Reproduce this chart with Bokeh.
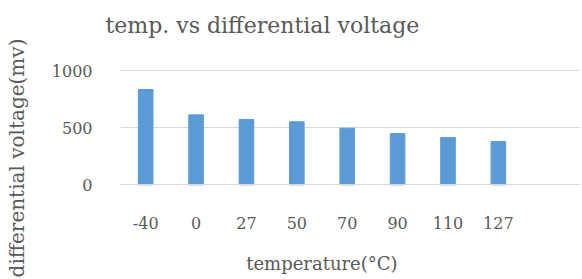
from bokeh.plotting import figure
from bokeh.models import Range1d, Title, FixedTicker
from bokeh.embed import file_html
from bokeh.resources import INLINE

temps = ["-40", "0", "27", "50", "70", "90", "110", "127"]
voltages = [834, 612, 571, 551, 495, 448, 414, 379]
y_ticks = [0, 500, 1000]

positions = list(range(len(temps)))

FONT = "DejaVu Serif"
TXT = "#595959"
NBSP = "\u00a0"

p = figure(width=580, height=277, output_backend="svg", toolbar_location=None,
           x_range=Range1d(-0.5, 8.63), y_range=Range1d(-811, 1280),
           min_border_left=120, min_border_right=0, min_border_top=38,
           min_border_bottom=0)

p.vbar(x=positions, top=voltages, width=0.29, color="#5B9BD5")

p.outline_line_color = None
p.xgrid.grid_line_color = None
p.ygrid.grid_line_color = "#d9d9d9"
p.ygrid.ticker = FixedTicker(ticks=y_ticks)

p.yaxis.ticker = FixedTicker(ticks=y_ticks)
p.yaxis.axis_line_color = None
p.yaxis.major_tick_line_color = None
p.yaxis.minor_tick_line_color = None
p.yaxis.major_label_standoff = 22
p.yaxis.axis_label = "differential voltage(mv)"
p.yaxis.axis_label_standoff = 20
p.yaxis.axis_label_text_font_size = "20px"

p.xaxis.fixed_location = 0
p.xaxis.ticker = FixedTicker(ticks=positions)
p.xaxis.major_label_overrides = {i: t for i, t in zip(positions, temps)}
p.xaxis.axis_line_color = "#d9d9d9"
p.xaxis.major_tick_line_color = None
p.xaxis.minor_tick_line_color = None
p.xaxis.major_label_standoff = 26
p.xaxis.axis_label = "temperature(\u00b0C)" + NBSP * 10
p.xaxis.axis_label_standoff = 21
p.xaxis.axis_label_text_font_size = "18px"

for ax in (p.xaxis[0], p.yaxis[0]):
    ax.major_label_text_font = FONT
    ax.major_label_text_font_size = "16px"
    ax.major_label_text_color = TXT
    ax.axis_label_text_font = FONT
    ax.axis_label_text_font_style = "normal"
    ax.axis_label_text_color = TXT

t = Title(text="temp. vs differential voltage", align="left", offset=-15,
          standoff=0, vertical_align="middle", text_font=FONT,
          text_font_size="22px", text_font_style="normal", text_color=TXT)
p.add_layout(t, "above")

open("out.html", "w").write(file_html(p, INLINE))
